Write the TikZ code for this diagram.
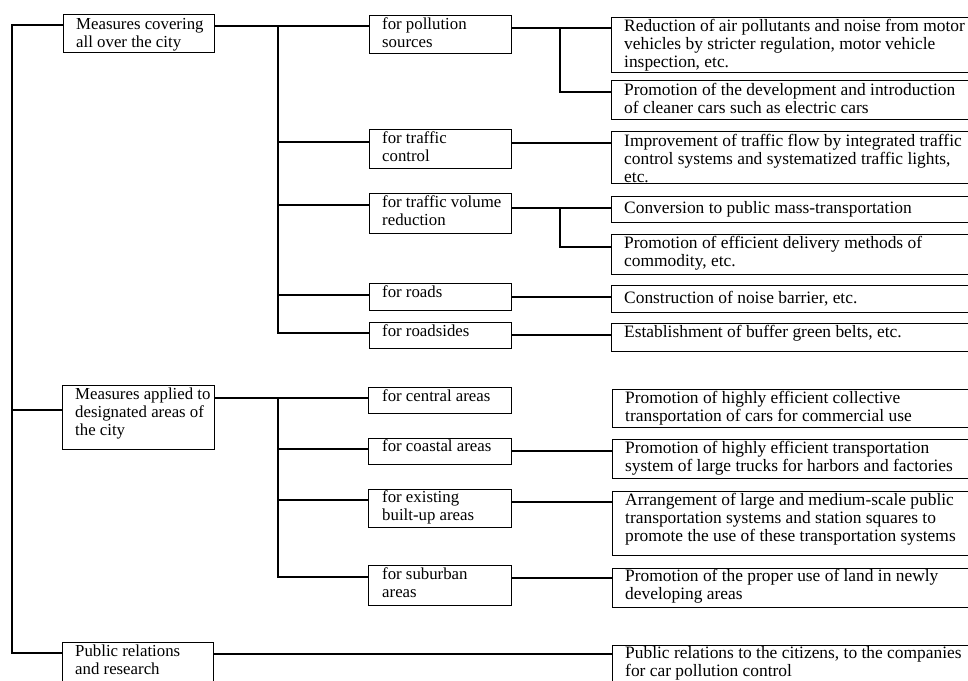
\documentclass[tikz,border=0pt]{standalone}
\usepackage{fontspec}
\setmainfont{Liberation Serif}
\newcommand{\tb}[1]{\begin{tabular}[t]{@{}l@{}}#1\end{tabular}}
\begin{document}
\begin{tikzpicture}[x=1pt,y=-1pt,
  box/.style={draw=black,line width=1.1pt,rectangle,anchor=north west,inner sep=0pt,minimum width=#1},
  box/.default=151,
  txt/.style={anchor=base west,inner sep=0pt,font=\fontsize{16.8}{18.3}\selectfont,text=black},
  rtxt/.style={txt,font=\fontsize{17.4}{18.3}\selectfont},
  conn/.style={draw=black,line width=1.1pt}]
\useasboundingbox (0,0) rectangle (968,680);
\clip (0,0) rectangle (968,680);
\fill[white] (0,0) rectangle (968,680);
% left column
\node[box=151,minimum height=38] (L1) at (63,14) {};
\node[box=152,minimum height=64] (L2) at (62,385) {};
\node[box=151,minimum height=42] (L3) at (62,642) {};
\node[txt] (tL1) at ([shift={(13,15)}]L1.north west) {\tb{Measures covering\\all over the city}};
\node[txt] (tL2) at ([shift={(13,14)}]L2.north west) {\tb{Measures applied to\\designated areas of\\the city}};
\node[txt] (tL3) at ([shift={(13,14)}]L3.north west) {\tb{Public relations\\and research}};
% middle column
\node[box=142,minimum height=38] (M1) at (369,15) {};
\node[box=142,minimum height=39] (M2) at (369,129) {};
\node[box=142,minimum height=40] (M3) at (369,193) {};
\node[box=142,minimum height=27] (M4) at (369,283) {};
\node[box=142,minimum height=26] (M5) at (369,322) {};
\node[box=143,minimum height=26] (M6) at (368,387) {};
\node[box=143,minimum height=26] (M7) at (368,438) {};
\node[box=143,minimum height=38] (M8) at (368,489) {};
\node[box=143,minimum height=40] (M9) at (368,565) {};
\node[txt] (tM1) at ([shift={(13,14)}]M1.north west) {\tb{for pollution\\sources}};
\node[txt] (tM2) at ([shift={(13,14)}]M2.north west) {\tb{for traffic\\control}};
\node[txt] (tM3) at ([shift={(13,14)}]M3.north west) {\tb{for traffic volume\\reduction}};
\node[txt] (tM4) at ([shift={(13,14)}]M4.north west) {\tb{for roads}};
\node[txt] (tM5) at ([shift={(13,14)}]M5.north west) {\tb{for roadsides}};
\node[txt] (tM6) at ([shift={(14,14)}]M6.north west) {\tb{for central areas}};
\node[txt] (tM7) at ([shift={(14,13)}]M7.north west) {\tb{for coastal areas}};
\node[txt] (tM8) at ([shift={(14,13)}]M8.north west) {\tb{for existing\\built-up areas}};
\node[txt] (tM9) at ([shift={(14,14)}]M9.north west) {\tb{for suburban\\areas}};
% right column
\node[box=400,minimum height=55] (R1) at (611,17) {};
\node[box=400,minimum height=39] (R2) at (611,80) {};
\node[box=400,minimum height=52] (R3) at (611,131) {};
\node[box=400,minimum height=26] (R4) at (611,196) {};
\node[box=400,minimum height=40] (R5) at (611,234) {};
\node[box=400,minimum height=27] (R6) at (611,285) {};
\node[box=400,minimum height=28] (R7) at (611,323) {};
\node[box=400,minimum height=38] (R8) at (612,389) {};
\node[box=400,minimum height=39] (R9) at (612,439) {};
\node[box=400,minimum height=64] (R10) at (612,491) {};
\node[box=400,minimum height=39] (R11) at (612,568) {};
\node[box=400,minimum height=45] (R12) at (612,645) {};
\node[rtxt] (tR1) at ([shift={(13,14)}]R1.north west) {\tb{Reduction of air pollutants and noise from motor\\vehicles by stricter regulation, motor vehicle\\inspection, etc.}};
\node[rtxt] (tR2) at ([shift={(13,15)}]R2.north west) {\tb{Promotion of the development and introduction\\of cleaner cars such as electric cars}};
\node[rtxt] (tR3) at ([shift={(13,15)}]R3.north west) {\tb{Improvement of traffic flow by integrated traffic\\control systems and systematized traffic lights,\\etc.}};
\node[rtxt] (tR4) at ([shift={(13,17)}]R4.north west) {\tb{Conversion to public mass-transportation}};
\node[rtxt] (tR5) at ([shift={(13,14)}]R5.north west) {\tb{Promotion of efficient delivery methods of\\commodity, etc.}};
\node[rtxt] (tR6) at ([shift={(13,18)}]R6.north west) {\tb{Construction of noise barrier, etc.}};
\node[rtxt] (tR7) at ([shift={(13,14)}]R7.north west) {\tb{Establishment of buffer green belts, etc.}};
\node[rtxt] (tR8) at ([shift={(13,14)}]R8.north west) {\tb{Promotion of highly efficient collective\\transportation of cars for commercial use}};
\node[rtxt] (tR9) at ([shift={(13,14)}]R9.north west) {\tb{Promotion of highly efficient transportation\\system of large trucks for harbors and factories}};
\node[rtxt] (tR10) at ([shift={(13,14)}]R10.north west) {\tb{Arrangement of large and medium-scale public\\transportation systems and station squares to\\promote the use of these transportation systems}};
\node[rtxt] (tR11) at ([shift={(13,13)}]R11.north west) {\tb{Promotion of the proper use of land in newly\\developing areas}};
\node[rtxt] (tR12) at ([shift={(13,13)}]R12.north west) {\tb{Public relations to the citizens, to the companies\\for car pollution control}};
% root spine
\coordinate (s1) at (12,25);
\coordinate (s2) at (12,410);
\coordinate (s3) at (12,653);
\draw[conn] (L1.west |- s1) -- (s1) -- (s3) -- (L3.west |- s3);
\draw[conn] (s2) -- (L2.west |- s2);
% trunk from L1
\coordinate (a1) at (278,26);
\coordinate (a2) at (278,142);
\coordinate (a3) at (278,205);
\coordinate (a4) at (278,295);
\coordinate (a5) at (278,333);
\draw[conn] (L1.east |- a1) -- (M1.west |- a1);
\draw[conn] (a1) -- (a5) -- (M5.west |- a5);
\draw[conn] (a2) -- (M2.west |- a2);
\draw[conn] (a3) -- (M3.west |- a3);
\draw[conn] (a4) -- (M4.west |- a4);
% trunk from L2
\coordinate (b1) at (278,398);
\coordinate (b2) at (278,449);
\coordinate (b3) at (278,500);
\coordinate (b4) at (278,577);
\draw[conn] (L2.east |- b1) -- (M6.west |- b1);
\draw[conn] (b1) -- (b4) -- (M9.west |- b4);
\draw[conn] (b2) -- (M7.west |- b2);
\draw[conn] (b3) -- (M8.west |- b3);
% middle to right
\coordinate (c1) at (560,28);
\coordinate (c2) at (560,92);
\draw[conn] (M1.east |- c1) -- (R1.west |- c1);
\draw[conn] (c1) -- (c2) -- (R2.west |- c2);
\coordinate (c3) at (560,143);
\draw[conn] (M2.east |- c3) -- (R3.west |- c3);
\coordinate (c4) at (560,208);
\coordinate (c5) at (560,247);
\draw[conn] (M3.east |- c4) -- (R4.west |- c4);
\draw[conn] (c4) -- (c5) -- (R5.west |- c5);
\coordinate (c6) at (560,297);
\draw[conn] (M4.east |- c6) -- (R6.west |- c6);
\coordinate (c7) at (560,335);
\draw[conn] (M5.east |- c7) -- (R7.west |- c7);
\coordinate (c9) at (560,451);
\draw[conn] (M7.east |- c9) -- (R9.west |- c9);
\coordinate (c10) at (560,502);
\draw[conn] (M8.east |- c10) -- (R10.west |- c10);
\coordinate (c11) at (560,578);
\draw[conn] (M9.east |- c11) -- (R11.west |- c11);
\coordinate (c12) at (560,654);
\draw[conn] (L3.east |- c12) -- (R12.west |- c12);
\end{tikzpicture}
\end{document}
